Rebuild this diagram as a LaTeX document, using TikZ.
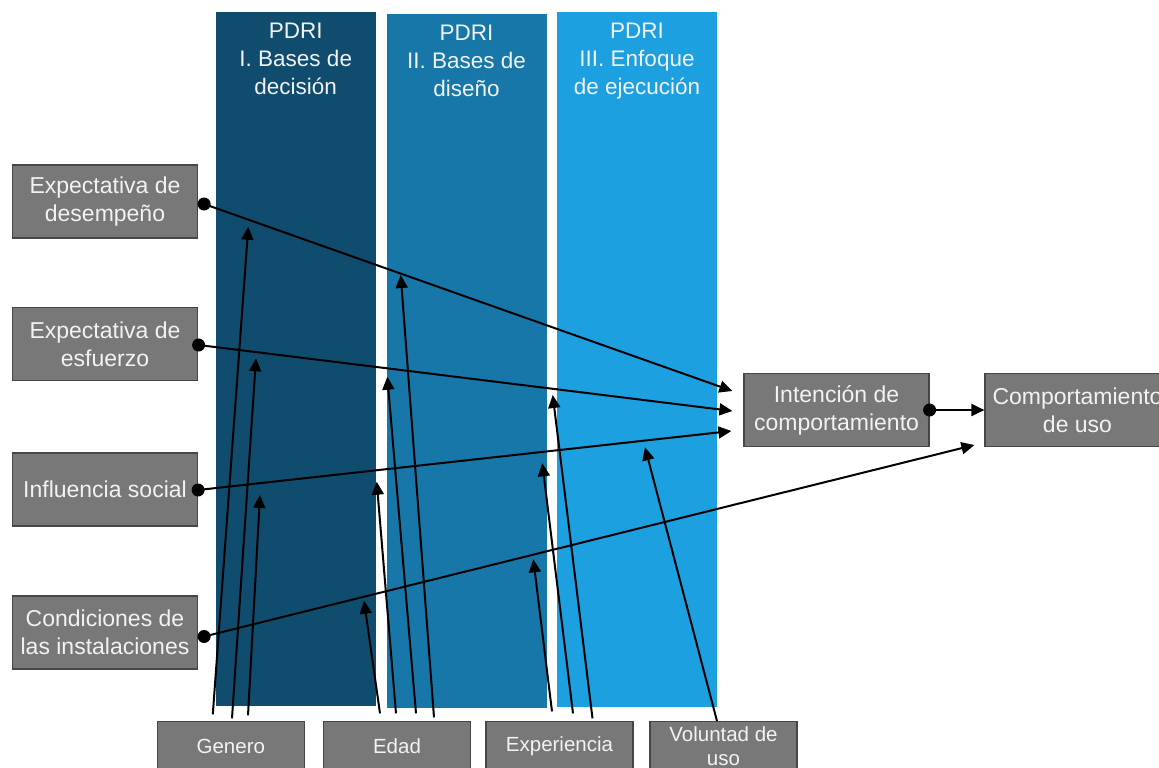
\documentclass[tikz,border=0pt]{standalone}
\usepackage{fontspec}
\setmainfont{Liberation Sans}
\usetikzlibrary{arrows.meta,calc}
\definecolor{colA}{RGB}{15,76,110}
\definecolor{colB}{RGB}{22,119,168}
\definecolor{colC}{RGB}{29,160,224}
\definecolor{boxgray}{RGB}{120,120,120}
\definecolor{boxedge}{RGB}{70,70,70}
\definecolor{txt}{RGB}{242,242,242}
\tikzset{
 band/.style={draw=none, inner sep=0pt, minimum width=160pt, minimum height=694pt},
 hdr/.style={text=txt, align=center, inner sep=0pt, font=\fontsize{22.5}{28}\selectfont},
 gbox/.style={fill=boxgray, draw=boxedge, line width=1.2pt, inner sep=0pt, minimum width=185pt, minimum height=73pt, text=txt, align=center, font=\fontsize{23}{28}\selectfont},
 mbox/.style={gbox, minimum width=147pt, minimum height=49pt, font=\fontsize{20.5}{24}\selectfont},
 conn/.style={line width=2pt, -{Triangle[length=13pt,width=12pt]}},
 blackdot/.style={fill=black},
}
\begin{document}
\begin{tikzpicture}[x=1pt,y=-1pt]
\useasboundingbox (0,0) rectangle (1159,768);
\clip (0,0) rectangle (1159,768);
% bands
\node[band, fill=colA] (p1) at (295.75,359) {};
\node[band, fill=colB] (p2) at (466.6,361) {};
\node[band, fill=colC] (p3) at (637,359.5) {};
\node[hdr] (h1) at (295.75,59) {PDRI\\I. Bases de\\decisión};
\node[hdr] (h2) at (466.6,61) {PDRI\\II. Bases de\\diseño};
\node[hdr] (h3) at (637,61) {PDRI\\III. Enfoque\\de ejecución};
% boxes
\node[gbox] (e1) at (105,201.5) {Expectativa de\\desempeño};
\node[gbox] (e2) at (105,344) {Expectativa de\\esfuerzo};
\node[gbox] (e3) at (105,489.5) {Influencia social};
\node[gbox] (e4) at (105,632.5) {Condiciones de\\las instalaciones};
\node[gbox] (int) at (836.5,410) {Intención de\\comportamiento};
\node[gbox] (comp) at (1077.5,410) {Comportamiento\\de uso};
\node[mbox] (gen) at (230.8,746.2) {Genero};
\node[mbox] (eda) at (397,746.2) {Edad};
\node[mbox] (exp) at (559.5,746.2) {Experiencia};
\node[mbox] (vol) at (723.5,746.2) {Voluntad de\\uso};
% connector ends
\coordinate (d1) at ($(e1.east)+(6,2.5)$);
\coordinate (d2) at ($(e2.east)+(0.5,1)$);
\coordinate (d3) at ($(e3.east)+(0,0.5)$);
\coordinate (d4) at ($(e4.east)+(6,4)$);
\coordinate (di) at (int.east);
\coordinate (t1) at ($(int.west)+(-11,-19)$);
\coordinate (t2) at ($(int.west)+(-11,1)$);
\coordinate (t3) at ($(int.west)+(-12,21)$);
\coordinate (t4) at ($(comp.west)+(-10,35)$);
% main arrows
\draw[conn] (d1) -- (t1);
\draw[conn] (d2) -- (t2);
\draw[conn] (d3) -- (t3);
\draw[conn] (d4) -- (t4);
\draw[conn] (di) -- (comp.west);
% moderator ends
\coordinate (gs1) at ($(gen.north)+(-18,-6.7)$);
\coordinate (gs2) at ($(gen.north)+(1.2,-2.7)$);
\coordinate (gs3) at ($(gen.north)+(17.2,-5.7)$);
\coordinate (ge1) at (248.3,226.7);
\coordinate (ge2) at (256,358.3);
\coordinate (ge3) at (260,495);
\coordinate (es1) at ($(eda.north)+(-17,-7.7)$);
\coordinate (es2) at ($(eda.north)+(-1,-7.7)$);
\coordinate (es3) at ($(eda.north)+(19,-7.7)$);
\coordinate (es4) at ($(eda.north)+(37,-3.7)$);
\coordinate (ee1) at (364,600.7);
\coordinate (ee2) at (376.7,481.7);
\coordinate (ee3) at (387.3,376.7);
\coordinate (ee4) at (400.7,275);
\coordinate (xs1) at ($(exp.north)+(-7.5,-9.7)$);
\coordinate (xs2) at ($(exp.north)+(13.5,-7.7)$);
\coordinate (xs3) at ($(exp.north)+(33,-2.7)$);
\coordinate (xe1) at (533.3,559.3);
\coordinate (xe2) at (542.3,463.3);
\coordinate (xe3) at (552.7,395);
\coordinate (vs1) at ($(vol.north)+(-6.5,0)$);
\coordinate (ve1) at (645,447.3);
\draw[conn] (gs1) -- (ge1);
\draw[conn] (gs2) -- (ge2);
\draw[conn] (gs3) -- (ge3);
\draw[conn] (es1) -- (ee1);
\draw[conn] (es2) -- (ee2);
\draw[conn] (es3) -- (ee3);
\draw[conn] (es4) -- (ee4);
\draw[conn] (xs1) -- (xe1);
\draw[conn] (xs2) -- (xe2);
\draw[conn] (xs3) -- (xe3);
\draw[conn] (vs1) -- (ve1);
% dots
\fill[blackdot] (d1) circle[radius=6.5pt];
\fill[blackdot] (d2) circle[radius=6.5pt];
\fill[blackdot] (d3) circle[radius=6.5pt];
\fill[blackdot] (d4) circle[radius=6.5pt];
\fill[blackdot] (di) circle[radius=6.5pt];
\end{tikzpicture}
\end{document}
